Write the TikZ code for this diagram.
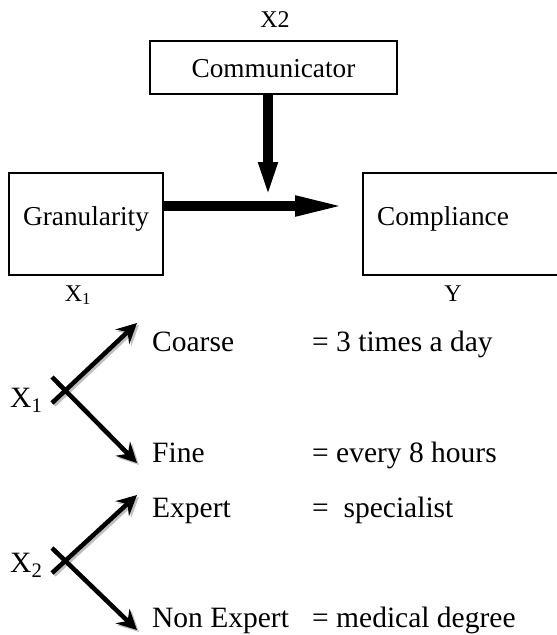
\documentclass[tikz,border=0pt]{standalone}
\usepackage{fontspec}
\setmainfont{Liberation Serif}
\usetikzlibrary{arrows.meta}
\tikzstyle{none}=[inner sep=0pt]
\tikzstyle{block}=[rectangle,draw=black,line width=1.2,inner sep=0pt,outer sep=0pt,font=\fontsize{27.3}{30}\selectfont,text height=19pt,text depth=17pt]
\tikzstyle{openblock}=[rectangle,draw=none,inner sep=0pt,outer sep=0pt]
\tikzstyle{boxline}=[-,line width=1.2]
\tikzstyle{blocklabel}=[inner sep=0pt,anchor=base,font=\fontsize{27.3}{30}\selectfont]
\tikzstyle{tag}=[inner sep=0pt,anchor=base,font=\fontsize{24}{26}\selectfont]
\tikzstyle{level}=[inner sep=0pt,anchor=base west,font=\fontsize{29.5}{32}\selectfont]
\tikzstyle{bigarrow}=[-{Triangle[length=53pt,width=18pt]},line width=10]
\tikzstyle{downarrow}=[-{Triangle[length=36pt,width=17pt]},line width=10]
\tikzstyle{branch}=[-{Stealth[length=20pt,width=20pt,inset=7pt]},line width=4.5pt]
\tikzstyle{branchshadow}=[-{Stealth[length=20pt,width=20pt,inset=7pt]},line width=4.5pt,draw=gray!50,fill=gray!50]
\pgfdeclarelayer{edgelayer}
\pgfdeclarelayer{nodelayer}
\pgfsetlayers{edgelayer,nodelayer,main}

\begin{document}
\begin{tikzpicture}[x=1pt,y=-1pt]
	\useasboundingbox (0,0) rectangle (557,635);
	\begin{pgfonlayer}{nodelayer}
		\node [style=block, minimum width=247, minimum height=53, text depth=0pt] (comm) at (273.5, 67.5) {Communicator};
		\node [style=openblock, minimum width=194, minimum height=102] (compbox) at (460, 224) {};
		\node [style=block, minimum width=154, minimum height=102] (gran) at (86, 224) {Granularity};
		\node [style=blocklabel] (comp) at (443, 225) {Compliance};
		\node [style=none] (hit) at (268, 198) {};
		\node [style=tag] (xtwotop) at (275, 27) {X2};
		\node [style=tag] (xonetop) at (78, 301) {X\textsubscript{1}};
		\node [style=tag] (ytop) at (453, 301) {Y};

		\node [style=level] (xone) at (10, 407) {X\textsubscript{1}};
		\node [style=none] (a1) at (52, 403) {};
		\node [style=none] (b1) at (52, 377) {};
		\node [style=none] (coarsetip) at (137, 323) {};
		\node [style=none] (finetip) at (137, 463) {};
		\node [style=level] (coarse) at (152, 351) {Coarse};
		\node [style=level] (coarseval) at (312, 351) {= 3 times a day};
		\node [style=level] (fine) at (152, 462) {Fine};
		\node [style=level] (fineval) at (312, 462) {= every 8 hours};

		\node [style=level] (xtwo) at (10, 572) {X\textsubscript{2}};
		\node [style=none] (a2) at (52, 573) {};
		\node [style=none] (b2) at (52, 548) {};
		\node [style=none] (experttip) at (137, 495) {};
		\node [style=none] (nontip) at (137, 630) {};
		\node [style=level] (expert) at (152, 517) {Expert};
		\node [style=level] (expertval) at (312, 517) {=\ \ specialist};
		\node [style=level] (nonexpert) at (152, 627) {Non Expert};
		\node [style=level] (nonexpertval) at (312, 627) {= medical degree};
	\end{pgfonlayer}
	\begin{pgfonlayer}{edgelayer}
		% Compliance box runs off the right edge
		\draw [style=boxline] (compbox.north east) -| (compbox.south west) -- (compbox.south east);
		\draw [style=downarrow] ([xshift=-5.5pt]comm.south) to (hit.center);
		\draw [style=bigarrow, shorten >=15pt] ([yshift=18pt]gran.east) to ([yshift=18pt]compbox.west);
		% grey shadows first
		\draw [style=branchshadow] ([shift={(2pt,-2pt)}]a1.center) to ([shift={(2pt,-2pt)}]coarsetip.center);
		\draw [style=branchshadow] ([shift={(2pt,-2pt)}]b1.center) to ([shift={(2pt,-2pt)}]finetip.center);
		\draw [style=branchshadow] ([shift={(2pt,-2pt)}]a2.center) to ([shift={(2pt,-2pt)}]experttip.center);
		\draw [style=branchshadow] ([shift={(2pt,-2pt)}]b2.center) to ([shift={(2pt,-2pt)}]nontip.center);
		\draw [style=branch] (a1.center) to (coarsetip.center);
		\draw [style=branch] (b1.center) to (finetip.center);
		\draw [style=branch] (a2.center) to (experttip.center);
		\draw [style=branch] (b2.center) to (nontip.center);
	\end{pgfonlayer}
\end{tikzpicture}
\end{document}
